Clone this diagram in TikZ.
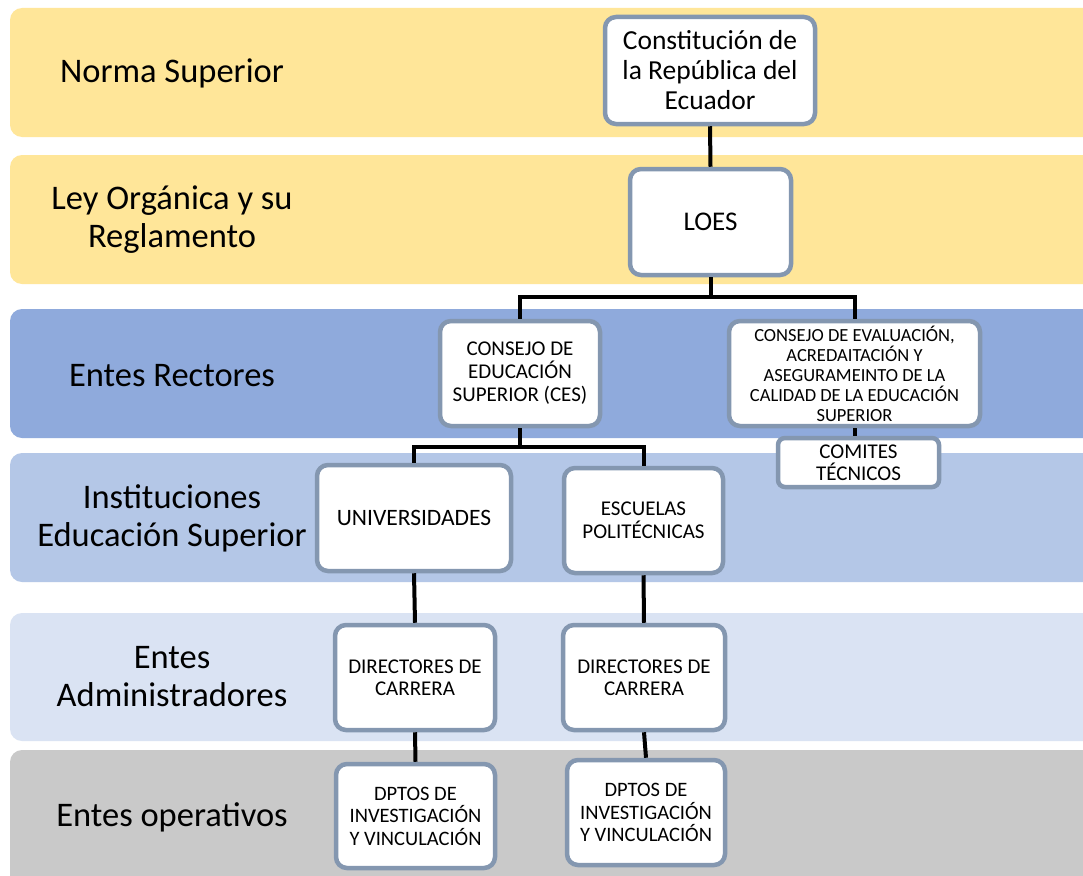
\documentclass[tikz,border=0pt]{standalone}
\usepackage{fontspec}
\setmainfont{Carlito}
\definecolor{yel}{HTML}{FFE699}
\definecolor{bluea}{HTML}{8FAADC}
\definecolor{blueb}{HTML}{B4C7E7}
\definecolor{bluec}{HTML}{DAE3F3}
\definecolor{greyband}{HTML}{C9C9C9}
\definecolor{boxc}{HTML}{8497B0}
\begin{document}
\begin{tikzpicture}[x=1pt,y=-1pt,
  box/.style={draw=boxc, line width=4.5pt, fill=white, rounded corners=11pt, align=center, inner sep=0pt},
  band/.style={rounded corners=12pt},
  lbl/.style={align=center, font=\fontsize{34.5}{38}\selectfont},
  link/.style={line width=4pt, black}]
\useasboundingbox (0,0) rectangle (1083,875);
\fill[white] (0,0) rectangle (1083,875);
% bands
\fill[yel, band] (10,8) rectangle (1110,137);
\fill[yel, band] (10,155) rectangle (1110,284);
\fill[bluea, band] (10,309) rectangle (1110,438);
\fill[blueb, band] (10,453) rectangle (1110,582);
\fill[bluec, band] (10,613) rectangle (1110,741);
\fill[greyband, band] (10,750) rectangle (1110,900);
% band labels
\node[lbl] (l1) at (172,73) {Norma Superior};
\node[lbl] (l2) at (172,220) {Ley Orgánica y su\\Reglamento};
\node[lbl] (l3) at (172,376) {Entes Rectores};
\node[lbl] (l4) at (172,518) {Instituciones\\Educación Superior};
\node[lbl] (l5) at (172,677) {Entes\\Administradores};
\node[lbl] (l6) at (172,817) {Entes operativos};
% boxes
\node[box, minimum width=210pt, minimum height=107pt, font=\fontsize{27.5}{30}\selectfont] (const) at (710,70.5) {Constitución de\\la República del\\Ecuador};
\node[box, minimum width=161pt, minimum height=106pt, font=\fontsize{27}{30}\selectfont] (loes) at (710.5,222) {LOES};
\node[box, minimum width=160pt, minimum height=105pt, font=\fontsize{21}{23}\selectfont] (ces) at (520,373.5) {CONSEJO DE\\EDUCACIÓN\\SUPERIOR (CES)};
\node[box, minimum width=251pt, minimum height=105pt, font=\fontsize{18.5}{20}\selectfont] (ceaaces) at (854.5,373.5) {CONSEJO DE EVALUACIÓN,\\ACREDAITACIÓN Y\\ASEGURAMEINTO DE LA\\CALIDAD DE LA EDUCACIÓN\\SUPERIOR};
\node[box, minimum width=161pt, minimum height=49pt, rounded corners=7pt, font=\fontsize{21}{22}\selectfont] (comites) at (858.5,462.5) {COMITES\\TÉCNICOS};
\node[box, minimum width=194pt, minimum height=106pt, font=\fontsize{23.5}{26}\selectfont] (univ) at (414,518) {UNIVERSIDADES};
\node[box, minimum width=159pt, minimum height=105pt, font=\fontsize{21}{23}\selectfont] (esc) at (643.5,520.5) {ESCUELAS\\POLITÉCNICAS};
\node[box, minimum width=160pt, minimum height=105pt, font=\fontsize{21}{22.5}\selectfont] (dir1) at (415,677.5) {DIRECTORES DE\\CARRERA};
\node[box, minimum width=162pt, minimum height=105pt, font=\fontsize{21}{22.5}\selectfont] (dir2) at (644,677.5) {DIRECTORES DE\\CARRERA};
\node[box, minimum width=159pt, minimum height=104pt, font=\fontsize{20.5}{22.5}\selectfont] (dpt1) at (415.5,816) {DPTOS DE\\INVESTIGACIÓN\\Y VINCULACIÓN};
\node[box, minimum width=158pt, minimum height=105pt, font=\fontsize{20.5}{22.5}\selectfont] (dpt2) at (646,812.5) {DPTOS DE\\INVESTIGACIÓN\\Y VINCULACIÓN};
% connectors
\coordinate (j1) at (710.5,297);
\coordinate (j2) at (520,447);
\draw[link] (const.south) -- (loes.north);
\draw[link] (loes.south) -- (j1);
\draw[link] (j1) -| (ces.north);
\draw[link] (j1) -| (ceaaces.north);
\draw[link] (ces.south) -- (j2);
\draw[link] (j2) -| (univ.north);
\draw[link] (j2) -| (esc.north);
\draw[link] (ceaaces.south) -- (ceaaces.south |- comites.north);
\draw[link] (univ.south) -- (dir1.north);
\draw[link] (esc.south) -- (dir2.north);
\draw[link] (dir1.south) -- (dpt1.north);
\draw[link] (dir2.south) -- (dpt2.north);
\end{tikzpicture}
\end{document}
